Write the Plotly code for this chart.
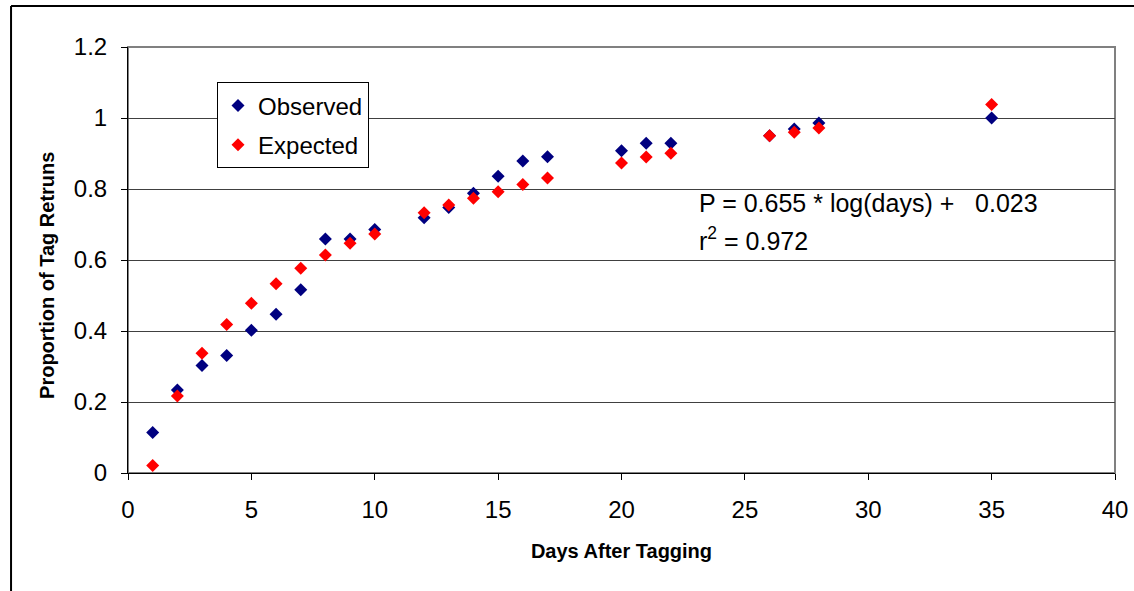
import plotly.graph_objects as go

days = [1, 2, 3, 4, 5, 6, 7, 8, 9, 10, 12, 13, 14, 15, 16, 17, 20, 21, 22, 26, 27, 28, 35]
observed = [0.114, 0.234, 0.303, 0.331, 0.402, 0.447, 0.516, 0.659, 0.659, 0.686,
            0.719, 0.748, 0.788, 0.836, 0.879, 0.891, 0.908, 0.929, 0.929, 0.950,
            0.969, 0.986, 1.000]
expected = [0.021, 0.217, 0.337, 0.418, 0.478, 0.533, 0.577, 0.614, 0.647, 0.673,
            0.733, 0.755, 0.774, 0.792, 0.813, 0.831, 0.873, 0.890, 0.901, 0.950,
            0.960, 0.972, 1.038]

x_ticks = [0, 5, 10, 15, 20, 25, 30, 35, 40]
y_ticks = [0, 0.2, 0.4, 0.6, 0.8, 1.0, 1.2]
y_tick_labels = ["0", "0.2", "0.4", "0.6", "0.8", "1", "1.2"]

FONT = "Liberation Sans, Arial, sans-serif"

fig = go.Figure()
fig.add_trace(go.Scatter(x=days, y=observed, mode="markers", name="Observed",
                         legendgroup="obs",
                         marker=dict(symbol="diamond", size=10, color="#000080")))
fig.add_trace(go.Scatter(x=days, y=expected, mode="markers", name="Expected",
                         legendgroup="exp",
                         marker=dict(symbol="diamond", size=10, color="#FF0000")))

fig.update_layout(
    width=1134, height=591,
    margin=dict(l=128, r=19, t=47, b=118, autoexpand=False),
    paper_bgcolor="white", plot_bgcolor="white",
    font=dict(family=FONT, color="black", size=24),
    showlegend=True,
    legend=dict(x=0.0902, y=0.917, xanchor="left", yanchor="top",
                bordercolor="black", borderwidth=1, bgcolor="white",
                font=dict(size=24), tracegroupgap=5),
    xaxis=dict(range=[0, 40], tickvals=x_ticks, showgrid=False, zeroline=False,
               showline=True, linecolor="black", linewidth=1, automargin=False,
               ticks="outside", ticklen=6, tickcolor="black", ticklabelstandoff=9,
               tickfont=dict(size=24),
               title=dict(text="<b>Days After Tagging</b>", font=dict(size=20), standoff=22)),
    yaxis=dict(range=[0, 1.2], tickvals=y_ticks, ticktext=y_tick_labels,
               showgrid=True, gridcolor="#404040", gridwidth=1, zeroline=False,
               showline=True, linecolor="black", linewidth=1, automargin=False,
               ticks="outside", ticklen=6, tickcolor="black", ticklabelstandoff=9,
               tickfont=dict(size=24)),
    shapes=[
        dict(type="rect", xref="paper", yref="paper", x0=0, y0=0, x1=1, y1=1,
             line=dict(color="#808080", width=2), layer="below"),
        dict(type="line", xref="paper", yref="paper", x0=-0.1185, y0=1.0962, x1=1.05, y1=1.0962,
             line=dict(color="black", width=2)),
        dict(type="line", xref="paper", yref="paper", x0=-0.1185, y0=-0.3, x1=-0.1185, y1=1.0962,
             line=dict(color="black", width=2)),
    ],
    annotations=[
        dict(x=-0.0821, y=0.4648, xref="paper", yref="paper", xanchor="center", yanchor="middle",
             showarrow=False, textangle=-90,
             text="<b>Proportion of Tag Retruns</b>", font=dict(size=20)),
        dict(x=23.05, y=0.76, xref="x", yref="y", xanchor="left", yanchor="middle",
             showarrow=False, align="left",
             text="P = 0.655 * log(days) +\u00a0\u00a0 0.023", font=dict(size=25)),
        dict(x=23.05, y=0.66, xref="x", yref="y", xanchor="left", yanchor="middle",
             showarrow=False, align="left",
             text="r<sup>2</sup> = 0.972", font=dict(size=25)),
    ],
)

fig.write_html("out.html")
